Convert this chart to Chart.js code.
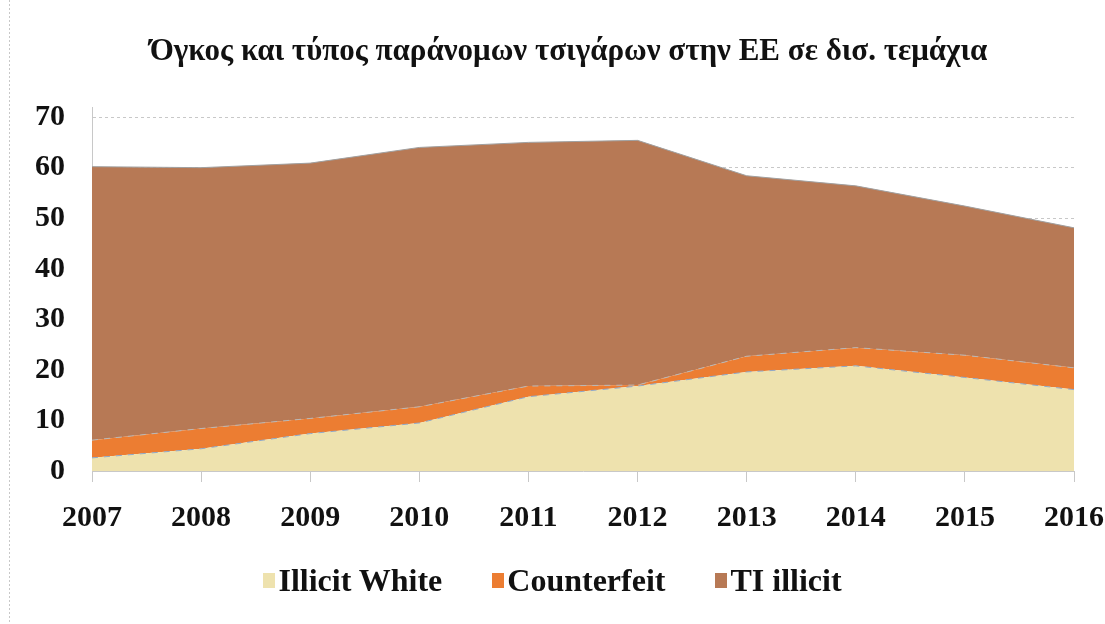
<!DOCTYPE html>
<html>
<head>
<meta charset="utf-8">
<script src="https://cdn.jsdelivr.net/npm/chart.js@4.4.1/dist/chart.umd.min.js"></script>
<style>
  html, body { margin: 0; padding: 0; background: #ffffff; }
  #wrap { position: relative; width: 1105px; height: 624px; overflow: hidden; }
  #title {
    position: absolute; left: 32px; top: 31px; width: 1073px; height: 38px; line-height: 38px;
    text-align: center; white-space: nowrap;
    font-family: "Liberation Serif", "DejaVu Serif", serif;
    font-weight: bold; font-size: 31px; color: #111111;
  }
  #legend {
    position: absolute; left: 0; top: 560px; width: 1105px; height: 40px;
    display: flex; justify-content: center; align-items: center; gap: 50px;
    font-family: "Liberation Serif", "DejaVu Serif", serif;
    font-weight: bold; font-size: 32px; color: #111111;
  }
  #legend .item { display: flex; align-items: center; white-space: nowrap; }
  #legend .sw { display: inline-block; width: 12px; height: 15px; margin-right: 3px; }
</style>
</head>
<body>
<div id="wrap">
  <canvas id="c" width="1105" height="624"></canvas>
  <div id="title"></div>
  <div id="legend"></div>
</div>
<script>
// ---- data ----
const years = ['2007', '2008', '2009', '2010', '2011', '2012', '2013', '2014', '2015', '2016'];
const illicitWhite = [2.6, 4.4, 7.4, 9.5, 14.7, 16.8, 19.6, 20.8, 18.5, 16.1];
const counterfeit  = [3.5, 4.0, 3.0, 3.2, 2.1, 0.2, 3.1, 3.6, 4.4, 4.3];
const tiIllicit    = [54.1, 51.6, 50.5, 51.3, 48.2, 48.4, 35.7, 32.0, 29.5, 27.7];
const seriesNames  = ['Illicit White', 'Counterfeit', 'TI illicit'];
const seriesColors = ['#EEE2AE', '#EC7D32', '#B77955'];
const yTicks       = [0, 10, 20, 30, 40, 50, 60, 70];
const titleText    = 'Όγκος και τύπος παράνομων τσιγάρων στην ΕΕ σε δισ. τεμάχια';

const SERIF = '"Liberation Serif", "DejaVu Serif", serif';

document.getElementById('title').textContent = titleText;

const framePlugin = {
  id: 'frame',
  beforeDraw(chart) {
    const ctx = chart.ctx;
    ctx.save();
    ctx.fillStyle = '#ffffff';
    ctx.fillRect(0, 0, chart.width, chart.height);
    ctx.strokeStyle = '#c8c8c8';
    ctx.setLineDash([2, 2]);
    ctx.lineWidth = 1;
    ctx.beginPath();
    ctx.moveTo(9.5, 0);
    ctx.lineTo(9.5, chart.height);
    ctx.stroke();
    ctx.restore();
  }
};

const chart = new Chart(document.getElementById('c'), {
  type: 'line',
  data: {
    labels: years,
    datasets: [
      {
        label: seriesNames[0],
        data: illicitWhite,
        backgroundColor: seriesColors[0],
        borderColor: '#8fa8c8',
        borderWidth: 1,
        borderDash: [6, 6],
        fill: 'origin',
        pointRadius: 0,
        tension: 0
      },
      {
        label: seriesNames[1],
        data: counterfeit,
        backgroundColor: seriesColors[1],
        borderColor: '#b8b8b8',
        borderWidth: 1,
        borderDash: [6, 6],
        fill: '-1',
        pointRadius: 0,
        tension: 0
      },
      {
        label: seriesNames[2],
        data: tiIllicit,
        backgroundColor: seriesColors[2],
        borderColor: '#a0a0a0',
        borderWidth: 1,
        fill: '-1',
        pointRadius: 0,
        tension: 0
      }
    ]
  },
  options: {
    responsive: false,
    animation: false,
    layout: { padding: { left: 0, right: 0, top: 107, bottom: 83 } },
    plugins: {
      title: { display: false },
      legend: { display: false },
      tooltip: { enabled: false }
    },
    scales: {
      x: {
        offset: false,
        afterFit(scale) { scale.height = 70; scale.paddingRight = 31; scale.paddingLeft = 0; },
        grid: {
          display: true,
          drawOnChartArea: false,
          drawTicks: true,
          tickLength: 11,
          color: '#c8c8c8'
        },
        border: { display: true, color: '#c8c8c8' },
        ticks: {
          color: '#111111',
          font: { family: SERIF, size: 30, weight: 'bold' },
          padding: 18,
          maxRotation: 0,
          autoSkip: false
        }
      },
      y: {
        stacked: true,
        min: 0,
        max: 72,
        afterBuildTicks(scale) {
          scale.ticks = yTicks.map(v => ({ value: v }));
        },
        afterFit(scale) { scale.width = 92; scale.paddingTop = 0; },
        grid: {
          display: true,
          drawTicks: false,
          color: '#c8c8c8',
          lineWidth: 1
        },
        border: { display: true, color: '#c8c8c8', dash: [3, 3] },
        ticks: {
          color: '#111111',
          font: { family: SERIF, size: 30, weight: 'bold' },
          padding: 27
        }
      }
    }
  },
  plugins: [framePlugin]
});

// HTML legend built from the chart's datasets
const legendEl = document.getElementById('legend');
chart.data.datasets.forEach(ds => {
  const item = document.createElement('div');
  item.className = 'item';
  const sw = document.createElement('span');
  sw.className = 'sw';
  sw.style.background = ds.backgroundColor;
  const txt = document.createElement('span');
  txt.textContent = ds.label;
  item.appendChild(sw);
  item.appendChild(txt);
  legendEl.appendChild(item);
});
</script>
</body>
</html>
